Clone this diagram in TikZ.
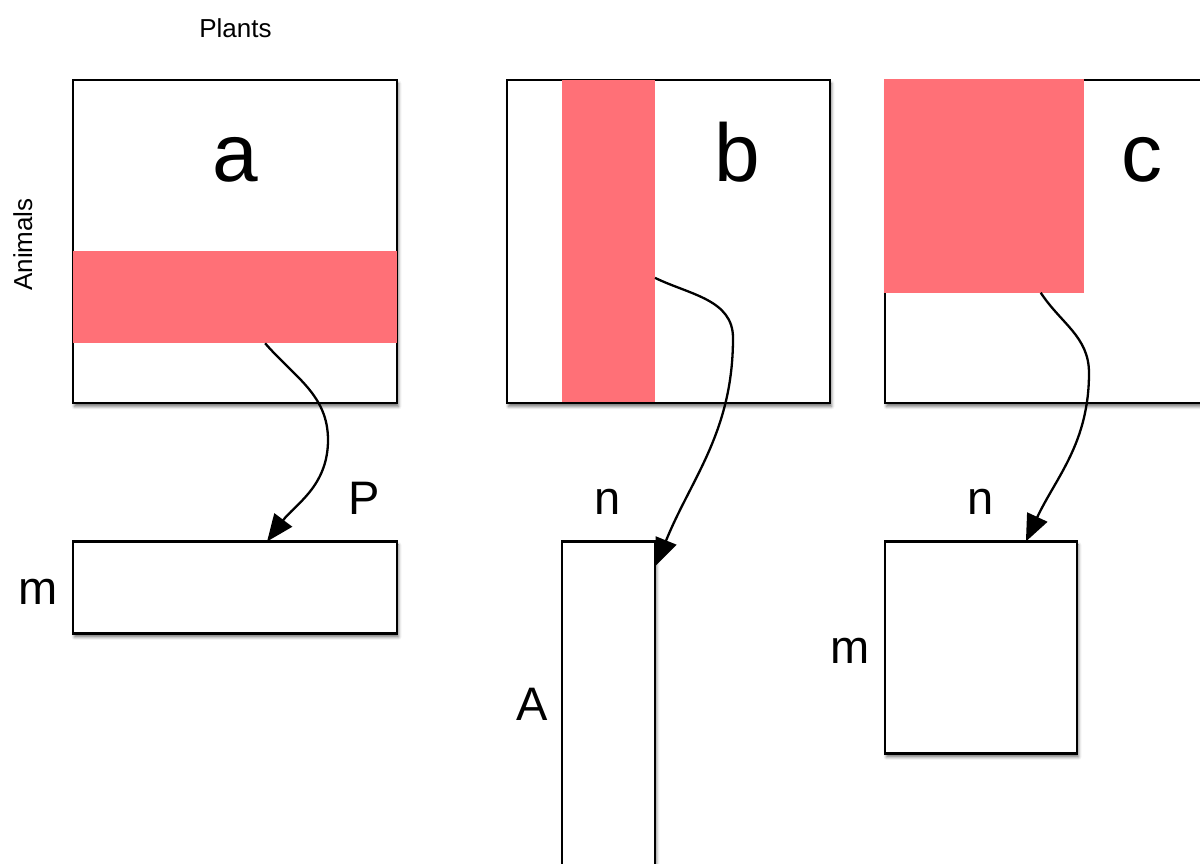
\documentclass[tikz,border=0pt]{standalone}
\usepackage{fontspec}
\setmainfont{Liberation Sans}
\usetikzlibrary{arrows.meta,calc,shadows.blur}
\definecolor{bandred}{RGB}{255,112,119}
\begin{document}
\begin{tikzpicture}[x=1pt,y=1pt,
  box/.style={draw=black, line width=2.6pt, fill=white, inner sep=0pt, outer sep=0pt, anchor=north west,
    blur shadow={shadow xshift=1.5pt, shadow yshift=-3.5pt, shadow blur radius=3pt, shadow opacity=55}},
  band/.style={fill=bandred, draw=none, inner sep=0pt, outer sep=0pt, anchor=north west},
  big/.style={font=\fontsize{82}{90}\selectfont, inner sep=0pt, anchor=base},
  lab/.style={font=\fontsize{47}{52}\selectfont, inner sep=0pt, anchor=base},
  axislab/.style={font=\fontsize{26}{30}\selectfont, inner sep=0pt, anchor=base},
  link/.style={line width=2.3pt, -{Triangle[length=27pt,width=22pt]}}]
\useasboundingbox (0,0) rectangle (1200,863);
\clip (0,0) rectangle (1200,863);

% top matrices
\node[box, minimum width=324pt, minimum height=323pt] (A) at (73,783) {};
\node[box, minimum width=323pt, minimum height=323pt] (B) at (507,783) {};
\node[box, minimum width=324pt, minimum height=323pt] (C) at (885,783) {};

% red selections
\node[band, minimum width=324pt, minimum height=92.6pt] (ra) at (73,612.3) {};
\node[band, minimum width=92.7pt, minimum height=321.7pt] (rb) at (562.3,783) {};
\node[band, minimum width=200.3pt, minimum height=214pt] (rc) at (883.7,784.3) {};

% bottom matrices
\node[box, minimum width=324pt, minimum height=92pt] (pa) at (73,321.5) {};
\node[box, minimum width=93pt, minimum height=360pt] (pb) at (562,321.5) {};
\node[box, minimum width=192pt, minimum height=212pt] (pc) at (885,321.5) {};

% texts
\node[axislab] (plants) at (235.5,825) {Plants};
\node[axislab, rotate=90] (animals) at (32,618.5) {Animals};
\node[big] (la) at (235.5,681) {a};
\node[big] (lb) at (737,681) {b};
\node[big] (lc) at (1141.5,681) {c};
\node[lab] (lP) at (364.5,348) {P};
\node[lab] (lm1) at (38.5,258) {m};
\node[lab] (ln1) at (608,348) {n};
\node[lab] (lA) at (532,143) {A};
\node[lab] (ln2) at (981,348) {n};
\node[lab] (lm2) at (850,199) {m};

% connectors
\coordinate (sa) at ($(ra.south west)!0.593!(ra.south east)$);
\coordinate (ma) at (328,423);
\coordinate (ta) at ($(pa.north west)!0.599!(pa.north east)$);
\draw[link] (sa) to[out=-49,in=90] (ma) to[out=-90,in=53] (ta);

\coordinate (sb) at ($(rb.north east)!0.615!(rb.south east)$);
\coordinate (mb) at (733,525);
\coordinate (tb) at ($(pb.north east)+(1,-24)$);
\draw[link] (sb) to[out=-26,in=90] (mb) to[out=-90,in=68] (tb);

\coordinate (sc) at ($(rc.south west)!0.784!(rc.south east)$);
\coordinate (mc) at (1089,490);
\coordinate (tc) at ($(pc.north west)!0.734!(pc.north east)$);
\draw[link] (sc) to[out=-57,in=90] (mc) to[out=-90,in=65] (tc);
\end{tikzpicture}
\end{document}
